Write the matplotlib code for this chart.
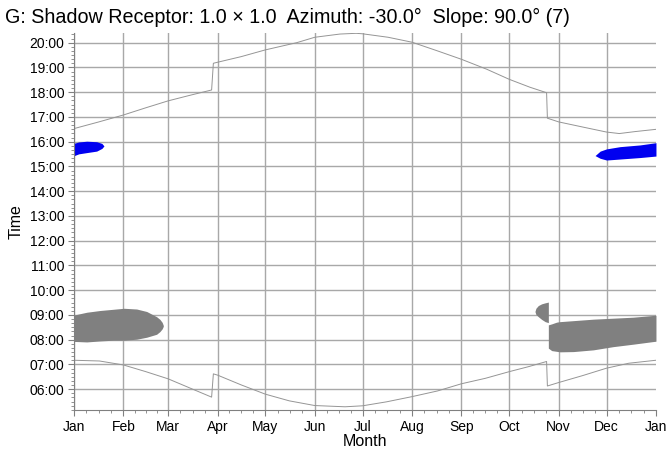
import matplotlib.pyplot as plt
from matplotlib.ticker import FixedLocator, FuncFormatter, MultipleLocator

plt.rcParams['font.family'] = ['Liberation Sans', 'DejaVu Sans']

# month starts (day of year) and labels
month_days = [0, 31, 59, 90, 120, 151, 181, 212, 243, 273, 304, 334, 365]
month_labels = ["Jan", "Feb", "Mar", "Apr", "May", "Jun", "Jul",
                "Aug", "Sep", "Oct", "Nov", "Dec", "Jan"]

# sunset curve (hours)
sunset_days = [0, 15, 31, 45, 59, 73, 86.3, 87.4, 90, 105, 120, 139.6, 151,
               166.8, 177, 181, 197, 212, 227.5, 243, 258.8, 273, 286, 296.4,
               296.9, 304, 320, 334, 342, 352, 365]
sunset_hours = [16.53, 16.79, 17.08, 17.37, 17.65, 17.88, 18.09, 19.17, 19.21,
                19.44, 19.71, 20.00, 20.22, 20.35, 20.38, 20.36, 20.22, 20.02,
                19.68, 19.33, 18.93, 18.52, 18.20, 17.98, 16.95, 16.80, 16.58,
                16.39, 16.33, 16.41, 16.50]

# sunrise curve (hours)
sunrise_days = [0, 16, 31, 45, 59, 73, 86.3, 87.4, 90, 105, 120, 135, 151, 170,
                181, 196, 212, 228, 243, 258, 273, 285, 296.4, 296.9, 304, 319,
                334, 348, 365]
sunrise_hours = [7.17, 7.14, 6.98, 6.71, 6.42, 6.04, 5.68, 6.62, 6.57, 6.17,
                 5.80, 5.53, 5.34, 5.29, 5.33, 5.49, 5.70, 5.93, 6.22, 6.44,
                 6.71, 6.91, 7.12, 6.13, 6.27, 6.55, 6.85, 7.05, 7.17]

# shadow areas (blue = afternoon, gray = morning)
blue_jan_days = [0.2, 3, 8, 14.2, 17.5, 18.8]
blue_jan_upper = [15.94, 15.99, 16.02, 16.00, 15.93, 15.83]
blue_jan_lower = [15.44, 15.51, 15.56, 15.62, 15.73, 15.83]

blue_dec_days = [326.8, 330, 334, 342.4, 355, 365]
blue_dec_upper = [15.44, 15.62, 15.71, 15.80, 15.87, 15.96]
blue_dec_lower = [15.44, 15.33, 15.26, 15.30, 15.36, 15.42]

gray_jan_days = [0.2, 8, 16.3, 24.7, 31.4, 39.3, 45.6, 51.8, 53.9, 55.3, 56]
gray_jan_upper = [9.00, 9.11, 9.18, 9.23, 9.27, 9.24, 9.14, 8.93, 8.82, 8.70, 8.58]
gray_jan_lower = [7.93, 7.91, 7.95, 7.98, 7.98, 8.02, 8.10, 8.22, 8.33, 8.44, 8.54]

gray_oct_days = [289.1, 289.7, 291.2, 293.3, 295.5, 297.5]
gray_oct_upper = [9.14, 9.27, 9.38, 9.45, 9.49, 9.52]
gray_oct_lower = [9.14, 9.02, 8.93, 8.82, 8.73, 8.69]

gray_dec_days = [297.5, 299.6, 302.7, 304.8, 313.2, 325.7, 338.2, 350.8, 365]
gray_dec_upper = [8.60, 8.64, 8.71, 8.73, 8.77, 8.83, 8.87, 8.91, 8.99]
gray_dec_lower = [7.66, 7.56, 7.53, 7.51, 7.52, 7.59, 7.72, 7.82, 7.94]

fig = plt.figure(figsize=(6.71, 4.55), dpi=100)
ax = fig.add_axes([0.1103, 0.0989, 0.8673, 0.8279])

grid_c = "#a8a8a8"
for d in month_days[:-1]:
    ax.axvline(d, color=grid_c, lw=1.0, zorder=0)
for h in range(6, 21):
    ax.axhline(h, color=grid_c, lw=1.0, zorder=0)

ax.plot(sunset_days, sunset_hours, color="#959595", lw=0.7)
ax.plot(sunrise_days, sunrise_hours, color="#959595", lw=0.7)

blue = "#0000f0"
gray = "#808080"
ax.fill_between(blue_jan_days, blue_jan_lower, blue_jan_upper, color=blue, lw=0)
ax.fill_between(blue_dec_days, blue_dec_lower, blue_dec_upper, color=blue, lw=0)
ax.fill_between(gray_jan_days, gray_jan_lower, gray_jan_upper, color=gray, lw=0)
ax.fill_between(gray_oct_days, gray_oct_lower, gray_oct_upper, color=gray, lw=0)
ax.fill_between(gray_dec_days, gray_dec_lower, gray_dec_upper, color=gray, lw=0)

ax.set_xlim(0, 365)
ax.set_ylim(5.16, 20.38)

ax.xaxis.set_major_locator(FixedLocator(month_days))
ax.set_xticklabels(month_labels)
minor_x = []
for a, b in zip(month_days[:-1], month_days[1:]):
    minor_x += [a + (b - a) * k / 4 for k in (1, 2, 3)]
ax.xaxis.set_minor_locator(FixedLocator(minor_x))

ax.yaxis.set_major_locator(MultipleLocator(1))
ax.yaxis.set_minor_locator(MultipleLocator(1 / 6))
ax.yaxis.set_major_formatter(FuncFormatter(lambda v, p: f"{int(round(v)):02d}:00"))

for s in ("top", "right"):
    ax.spines[s].set_visible(False)
for s in ("left", "bottom"):
    ax.spines[s].set_color("#808080")
    ax.spines[s].set_linewidth(0.8)

ax.tick_params(which="major", length=4, color="#808080", labelsize=10, pad=3)
ax.tick_params(which="minor", length=2, color="#808080")

ax.set_xlabel("Month", fontsize=11.5, labelpad=0)
ax.set_ylabel("Time", fontsize=11.5, labelpad=4)

fig.text(5 / 671, 1 - 17 / 455, "G: Shadow Receptor: 1.0 \u00d7 1.0  Azimuth: -30.0\u00b0  Slope: 90.0\u00b0 (7)",
         fontsize=14.2, ha="left", va="center")

fig.savefig("out.png", dpi=100)
